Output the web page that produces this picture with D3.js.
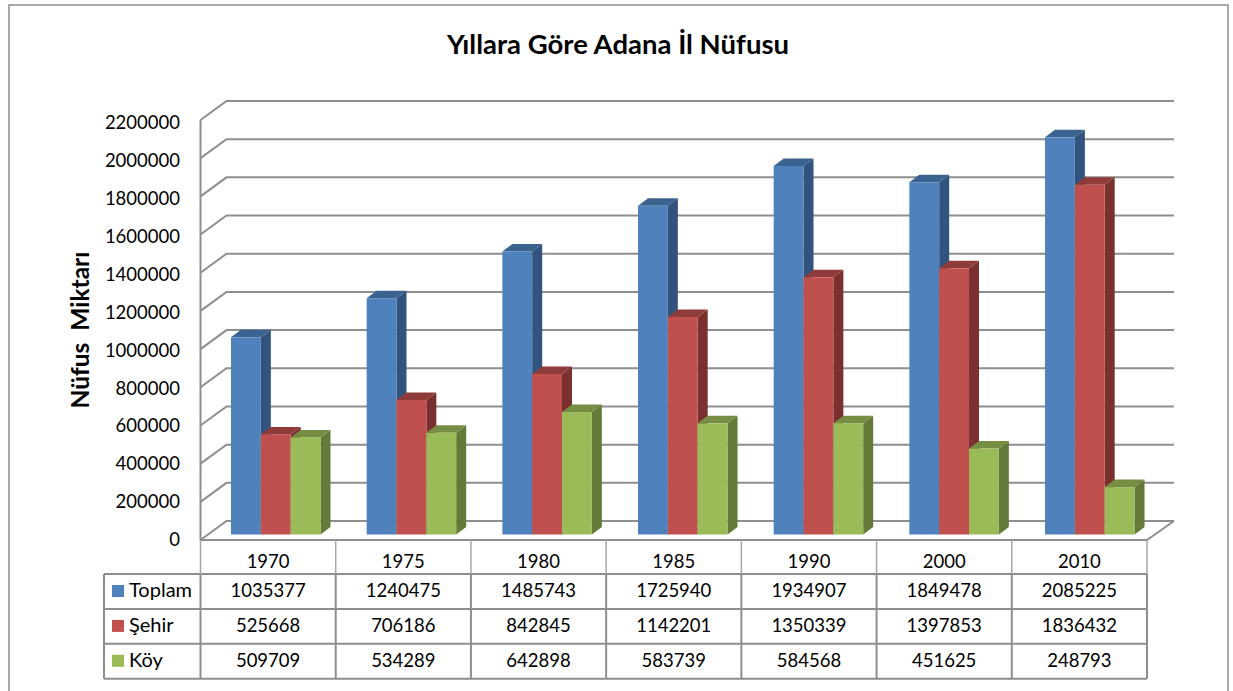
<!DOCTYPE html>
<html>
<head>
<meta charset="utf-8">
<script src="https://cdn.jsdelivr.net/npm/d3@7"></script>
<style>
    html, body { margin: 0; padding: 0; background: #fff; }
    svg { display: block; }
    text { font-family: Lato, "Liberation Sans", sans-serif; fill: #000; }
</style>
</head>
<body>
<svg id="chart"></svg>
<script>
let width = 1233;
let height = 691;

const years = ["1970", "1975", "1980", "1985", "1990", "2000", "2010"];
const seriesNames = ["Toplam", "Şehir", "Köy"];
const toplam = [1035377, 1240475, 1485743, 1725940, 1934907, 1849478, 2085225];
const sehir = [525668, 706186, 842845, 1142201, 1350339, 1397853, 1836432];
const koy = [509709, 534289, 642898, 583739, 584568, 451625, 248793];
const yTicks = [0, 200000, 400000, 600000, 800000, 1000000, 1200000, 1400000, 1600000, 1800000, 2000000, 2200000];

const seriesValues = [toplam, sehir, koy];
const front = ["#4F81BD", "#C0504D", "#9BBB59"];
const topFace = ["#3B6390", "#8F3B39", "#758E43"];
const sideFace = ["#31537D", "#7A302E", "#647A39"];
const gridColor = "#8E8E8E";

let svg = d3.select("#chart").attr("width", width).attr("height", height);

// frame
svg.append("rect")
    .attr("x", 9).attr("y", 5)
    .attr("width", 1219).attr("height", 700)
    .style("fill", "#fff").style("stroke", "#8E8E8E").style("stroke-width", 1.5);

// depth of the fake 3d box
let wall = {"dx": 26, "dy": -19};
let bar = {"dx": 10, "dy": -7.5, "base": 534.5};

let y = d3.scaleLinear().domain([0, 2200000]).range([540, 120]);
// bars sit on the floor, a bit behind the front edge
let yBar = d3.scaleLinear().domain([0, 2200000]).range([bar.base, bar.base - 419]);
// labels drift a little from the gridlines in the original
let yLabel = d3.scaleLinear().domain([0, 2200000]).range([539.5, 123]);

// table columns and bar groups do not line up exactly in the original
let xTable = d3.scaleBand().domain(years).range([200.5, 1147]);
let xBar = d3.scaleBand().domain(years).range([208.2, 1157.9]);
let xSeries = d3.scaleBand().domain(seriesNames).range([22.8, 112.3]);

let grid = svg.append("g")
    .style("stroke", gridColor)
    .style("stroke-width", 2)
    .style("fill", "none");

yTicks.forEach(function(t) {
    grid.append("path")
        .attr("d", d3.line()([
            [xTable.range()[0], y(t)],
            [xTable.range()[0] + wall.dx, y(t) + wall.dy],
            [xTable.range()[1] + wall.dx + 1, y(t) + wall.dy]
        ]));
});
grid.append("line")
    .attr("x1", xTable.range()[0]).attr("x2", xTable.range()[0])
    .attr("y1", y(2200000)).attr("y2", y(0));
grid.append("path")
    .attr("d", d3.line()([
        [xTable.range()[0], y(0)],
        [xTable.range()[1], y(0)],
        [xTable.range()[1] + wall.dx + 1, y(0) + wall.dy]
    ]));

// bars
let bars = svg.append("g");
years.forEach(function(year, i) {
    seriesNames.forEach(function(name, s) {
        let x0 = xBar(year) + xSeries(name);
        let x1 = x0 + xSeries.bandwidth();
        let yTop = yBar(seriesValues[s][i]);
        let g = bars.append("g");
        g.append("path")
            .attr("d", d3.line()([[x1, yTop], [x1 + bar.dx, yTop + bar.dy], [x1 + bar.dx, bar.base + bar.dy], [x1, bar.base]]))
            .style("fill", sideFace[s]);
        g.append("path")
            .attr("d", d3.line()([[x0, yTop], [x0 + bar.dx, yTop + bar.dy], [x1 + bar.dx, yTop + bar.dy], [x1, yTop]]))
            .style("fill", topFace[s]);
        g.append("rect")
            .attr("x", x0).attr("y", yTop)
            .attr("width", x1 - x0).attr("height", bar.base - yTop)
            .style("fill", front[s]);
    });
});

// y axis labels
svg.append("g").selectAll("text").data(yTicks)
    .enter().append("text")
    .attr("x", 180)
    .attr("y", (d) => yLabel(d))
    .attr("dy", "0.35em")
    .style("text-anchor", "end")
    .style("font-size", "18.5px")
    .text((d) => d);

// title
svg.append("text")
    .attr("x", 618).attr("y", 54)
    .style("text-anchor", "middle")
    .style("font-size", "27.5px")
    .style("font-weight", "bold")
    .text("Yıllara Göre Adana İl Nüfusu");

svg.append("text")
    .attr("transform", "translate(89, 330) rotate(-90)")
    .style("text-anchor", "middle")
    .style("font-size", "24.5px")
    .style("font-weight", "bold")
    .style("white-space", "pre")
    .text("Nüfus  Miktarı");

// data table
let rowTop = 574;
let rowH = 34.9;
let table = svg.append("g");
let tableLines = table.append("g")
    .style("stroke", gridColor)
    .style("stroke-width", 2);

// year row has thin lines
xTable.domain().forEach(function(year) {
    table.append("line")
        .attr("x1", xTable(year)).attr("x2", xTable(year))
        .attr("y1", 540).attr("y2", rowTop)
        .style("stroke", "#A6A6A6").style("stroke-width", 1.5);
    table.append("text")
        .attr("x", xTable(year) + xTable.bandwidth() / 2)
        .attr("y", 568)
        .style("text-anchor", "middle")
        .style("font-size", "18.5px")
        .text(year);
});
table.append("line")
    .attr("x1", 1147).attr("x2", 1147)
    .attr("y1", 540).attr("y2", rowTop)
    .style("stroke", "#A6A6A6").style("stroke-width", 1.5);

d3.range(4).forEach(function(r) {
    tableLines.append("line")
        .attr("x1", 104).attr("x2", 1147)
        .attr("y1", rowTop + r * rowH).attr("y2", rowTop + r * rowH);
});
[104].concat(years.map((d) => xTable(d))).concat([1147]).forEach(function(x) {
    tableLines.append("line")
        .attr("x1", x).attr("x2", x)
        .attr("y1", rowTop).attr("y2", rowTop + 3 * rowH);
});

seriesNames.forEach(function(name, s) {
    let baseline = rowTop + s * rowH + 23;
    table.append("rect")
        .attr("x", 112).attr("y", rowTop + s * rowH + 11)
        .attr("width", 12).attr("height", 12)
        .style("fill", front[s]);
    table.append("text")
        .attr("x", 129).attr("y", baseline)
        .style("font-size", "20px")
        .text(name);
    years.forEach(function(year, i) {
        table.append("text")
            .attr("x", xTable(year) + xTable.bandwidth() / 2)
            .attr("y", baseline)
            .style("text-anchor", "middle")
            .style("font-size", "18.5px")
            .text(seriesValues[s][i]);
    });
});
</script>
</body>
</html>
